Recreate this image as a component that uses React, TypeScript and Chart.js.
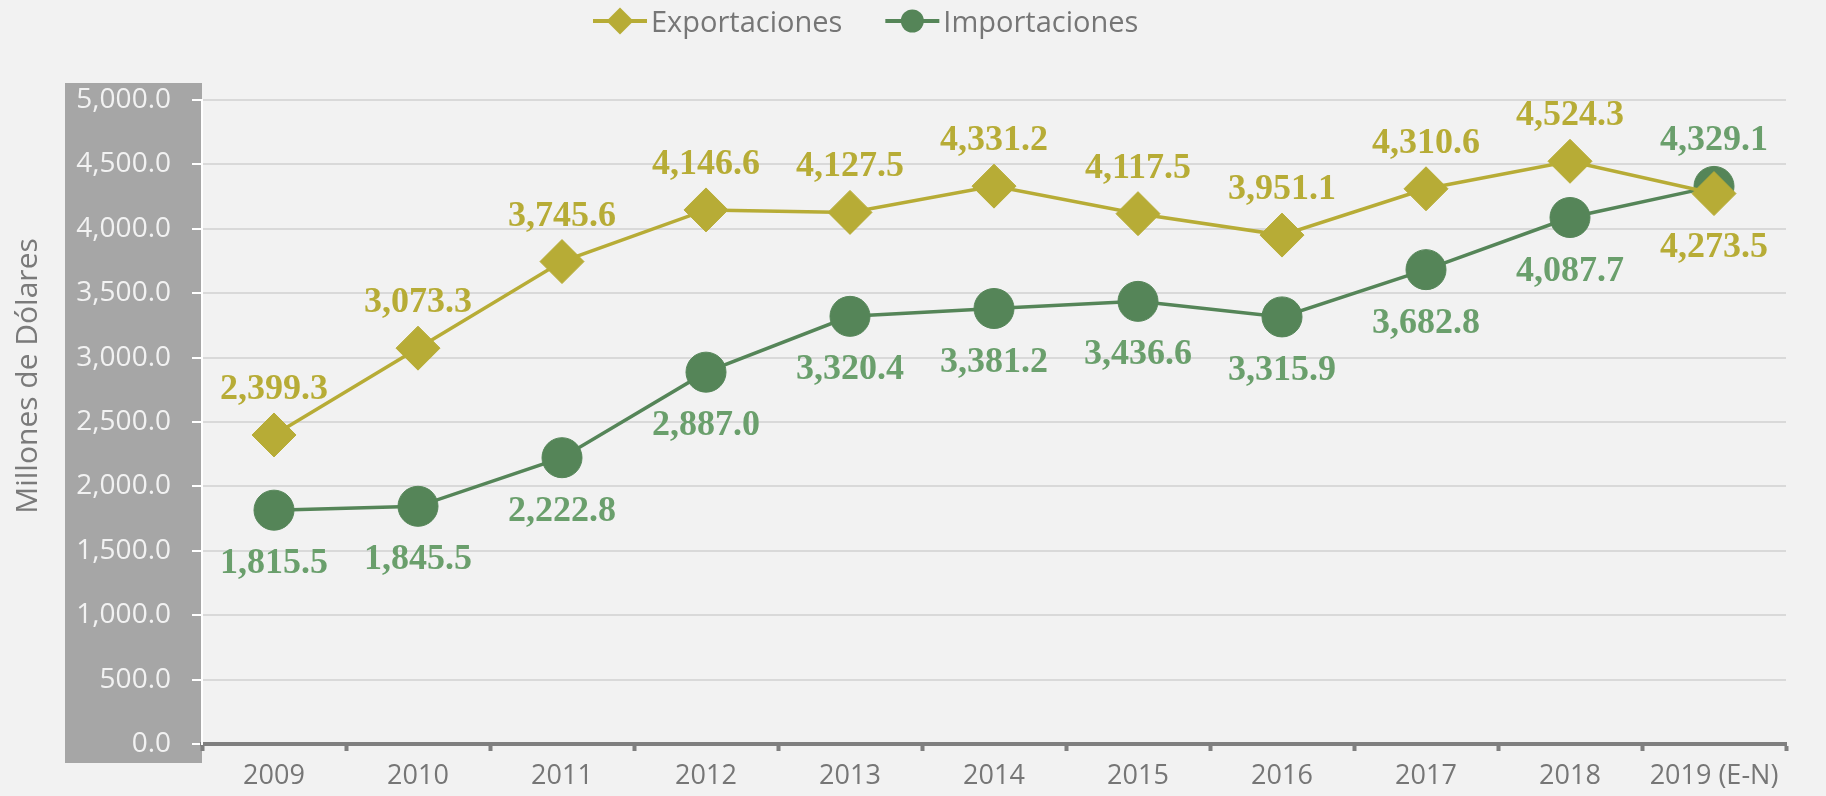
import React, { useEffect, useRef } from "react";
import { Chart, registerables } from "chart.js";

Chart.register(...registerables);

const categories = ["2009", "2010", "2011", "2012", "2013", "2014", "2015", "2016", "2017", "2018", "2019 (E-N)"];
const exportaciones = [2399.3, 3073.3, 3745.6, 4146.6, 4127.5, 4331.2, 4117.5, 3951.1, 4310.6, 4524.3, 4273.5];
const importaciones = [1815.5, 1845.5, 2222.8, 2887.0, 3320.4, 3381.2, 3436.6, 3315.9, 3682.8, 4087.7, 4329.1];
const yTickValues = [0, 500, 1000, 1500, 2000, 2500, 3000, 3500, 4000, 4500, 5000];
const seriesNames = ["Exportaciones", "Importaciones"];
const yAxisTitle = "Millones de Dólares";

// styling
const GOLD = "#b7ac36";
const GREEN = "#558558";
const GREEN_LABEL = "#6a9f6c";
const GRAY_TEXT = "#767676";
const exportPlacement = ["above", "above", "above", "above", "above", "above", "above", "above", "above", "above", "below"];
const importPlacement = ["below", "below", "below", "below", "below", "below", "below", "below", "below", "below", "above"];

const fmt = (v: number) =>
  v.toLocaleString("en-US", { minimumFractionDigits: 1, maximumFractionDigits: 1 });

const decorPlugin = {
  id: "decor",
  beforeDraw(chart: any) {
    const { ctx, chartArea } = chart;
    ctx.save();
    ctx.fillStyle = "#a6a6a6";
    ctx.fillRect(chartArea.left - 137, chartArea.top - 17, 137, chartArea.bottom - chartArea.top + 36);
    ctx.restore();
  },
  afterDraw(chart: any) {
    const { ctx } = chart;
    // y-axis title
    ctx.save();
    ctx.translate(37, 376);
    ctx.rotate(-Math.PI / 2);
    ctx.font = '30px "Open Sans"';
    ctx.fillStyle = "#7a7a7a";
    ctx.textAlign = "center";
    ctx.textBaseline = "alphabetic";
    ctx.fillText(yAxisTitle, 0, 0);
    ctx.restore();

    // legend
    const colors = [GOLD, GREEN];
    ctx.save();
    ctx.font = '29px "Open Sans"';
    let x0 = 593;
    const ly = 21;
    for (let i = 0; i < seriesNames.length; i++) {
      ctx.strokeStyle = colors[i];
      ctx.lineWidth = 4;
      ctx.beginPath();
      ctx.moveTo(x0, ly);
      ctx.lineTo(x0 + 54, ly);
      ctx.stroke();
      ctx.fillStyle = colors[i];
      const cx = x0 + 27;
      ctx.beginPath();
      if (i === 0) {
        const r = 13.5;
        ctx.moveTo(cx - r, ly);
        ctx.lineTo(cx, ly - r);
        ctx.lineTo(cx + r, ly);
        ctx.lineTo(cx, ly + r);
        ctx.closePath();
      } else {
        ctx.arc(cx, ly, 11.5, 0, Math.PI * 2);
      }
      ctx.fill();
      ctx.fillStyle = GRAY_TEXT;
      ctx.textAlign = "left";
      ctx.textBaseline = "alphabetic";
      const tx = x0 + 58;
      ctx.fillText(seriesNames[i], tx, ly + 11);
      x0 = tx + ctx.measureText(seriesNames[i]).width + 43;
    }
    ctx.restore();
  },
  afterDatasetsDraw(chart: any) {
    const { ctx } = chart;
    const placements = [exportPlacement, importPlacement];
    const labelColors = [GOLD, GREEN_LABEL];
    ctx.save();
    ctx.font = 'bold 36px "Liberation Serif"';
    ctx.textAlign = "center";
    ctx.textBaseline = "alphabetic";
    chart.data.datasets.forEach((ds: any, di: number) => {
      const meta = chart.getDatasetMeta(di);
      ctx.fillStyle = labelColors[di];
      meta.data.forEach((pt: any, i: number) => {
        const above = placements[di][i] === "above";
        const cy = pt.y + (above ? -48 : 51);
        ctx.fillText(fmt(ds.data[i]), pt.x, cy + 12);
      });
    });
    ctx.restore();
  },
};

export default function App() {
  const ref = useRef<HTMLCanvasElement | null>(null);

  useEffect(() => {
    document.body.style.margin = "0";
    const canvas = ref.current;
    if (!canvas) return;
    const chart = new Chart(canvas, {
      type: "line",
      data: {
        labels: categories,
        datasets: [
          {
            label: seriesNames[0],
            data: exportaciones,
            borderColor: GOLD,
            backgroundColor: GOLD,
            borderWidth: 3.5,
            pointStyle: "rectRot",
            pointRadius: 22,
            pointBorderWidth: 1,
            pointBackgroundColor: GOLD,
            pointBorderColor: GOLD,
            tension: 0,
          },
          {
            label: seriesNames[1],
            data: importaciones,
            borderColor: GREEN,
            backgroundColor: GREEN,
            borderWidth: 3.5,
            pointStyle: "circle",
            pointRadius: 20,
            pointBorderWidth: 1,
            pointBackgroundColor: GREEN,
            pointBorderColor: GREEN,
            tension: 0,
          },
        ],
      },
      options: {
        responsive: false,
        animation: false,
        events: [],
        layout: { padding: { top: 100, right: 40, bottom: 0, left: 0 } },
        plugins: {
          legend: { display: false },
          title: { display: false },
          tooltip: { enabled: false },
        },
        scales: {
          x: {
            type: "category",
            offset: true,
            afterFit: (s: any) => {
              s.height = 52;
            },
            grid: {
              display: true,
              drawOnChartArea: false,
              drawTicks: true,
              tickLength: 7,
              tickColor: "#7f7f7f",
              tickWidth: 4,
              offset: true,
            },
            border: { display: true, color: "#7f7f7f", width: 4 },
            ticks: {
              color: GRAY_TEXT,
              font: { family: '"Open Sans"', size: 27 },
              padding: 9,
              maxRotation: 0,
              autoSkip: false,
            },
          },
          y: {
            min: 0,
            max: 5000,
            afterFit: (s: any) => {
              s.width = 202;
            },
            afterBuildTicks: (s: any) => {
              s.ticks = yTickValues.map((v) => ({ value: v }));
            },
            grid: {
              color: "#d9d9d9",
              lineWidth: 2,
              drawTicks: true,
              tickLength: 10,
              tickColor: "#ffffff",
              tickWidth: 2,
            },
            border: { display: true, color: "#ffffff", width: 2 },
            ticks: {
              color: "#f2f2f2",
              font: { family: '"Open Sans"', size: 28 },
              padding: 21,
              callback: (v: any) => fmt(Number(v)),
            },
          },
        },
      },
      plugins: [decorPlugin],
    });
    return () => chart.destroy();
  }, []);

  return (
    <div
      style={{
        position: "fixed",
        left: 0,
        top: 0,
        width: 1826,
        height: 796,
        background: "#f2f2f2",
      }}
    >
      <canvas ref={ref} width={1826} height={796} style={{ display: "block" }} />
    </div>
  );
}
